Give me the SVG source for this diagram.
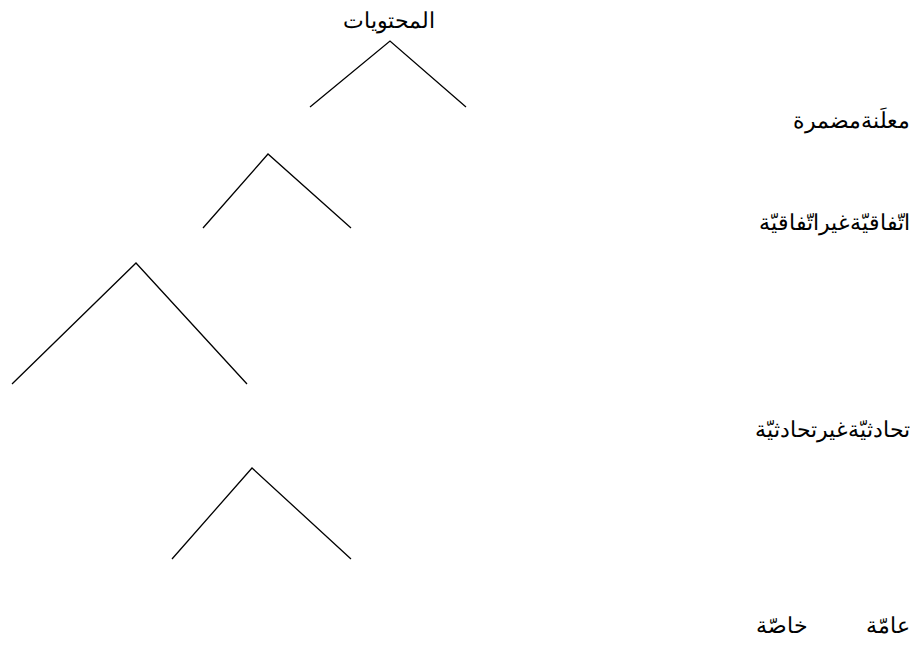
<svg xmlns="http://www.w3.org/2000/svg" width="919" height="648" viewBox="0 0 919 648">
  <style>
    .lbl { font-family: "Liberation Serif", serif; font-size: 22px; fill: #000; }
    .br { fill: none; stroke: #000; stroke-width: 1.3; }
  </style>
  <rect width="919" height="648" fill="#fff"/>
  <g id="root">
    <text class="lbl" x="389" y="28" text-anchor="middle">المحتويات</text>
  </g>
  <g id="level-1">
    <text class="lbl" x="910" y="128" text-anchor="end">معلَنةمضمرة</text>
  </g>
  <g id="level-2">
    <text class="lbl" x="910" y="230" text-anchor="end">اتّفاقيّةغيراتّفاقيّة</text>
  </g>
  <g id="level-3">
    <text class="lbl" x="910" y="437" text-anchor="end">تحادثيّةغيرتحادثيّة</text>
  </g>
  <g id="level-4">
    <text class="lbl" x="910" y="633" text-anchor="end">عامّة</text>
    <text class="lbl" x="808" y="633" text-anchor="end">خاصّة</text>
  </g>
  <g id="connectors">
    <polyline class="br" points="310,107 390,41 466,107"/>
    <polyline class="br" points="203,228 268,154 351,228"/>
    <polyline class="br" points="12,384 136,263 247,384"/>
    <polyline class="br" points="172,559 252,468 351,559"/>
  </g>
</svg>
